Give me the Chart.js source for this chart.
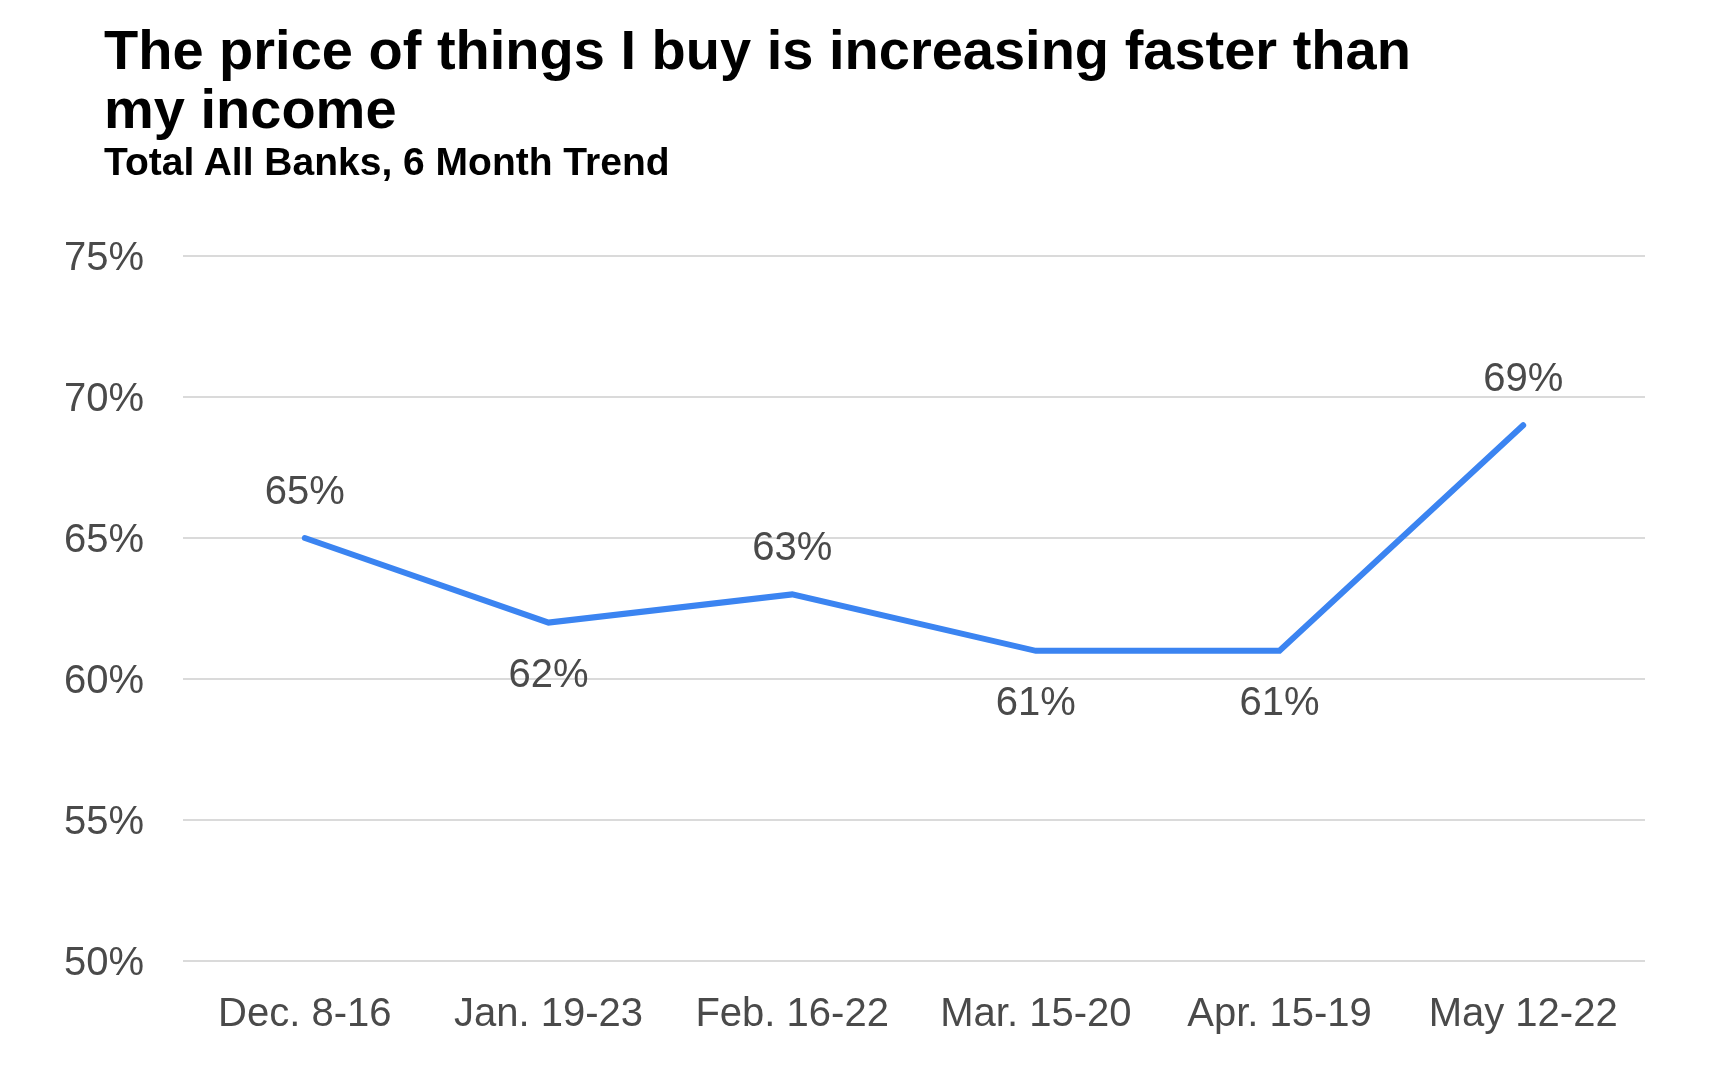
<!DOCTYPE html>
<html>
<head>
<meta charset="utf-8">
<title>The price of things I buy is increasing faster than my income</title>
<script src="https://cdn.jsdelivr.net/npm/chart.js@4.4.1/dist/chart.umd.min.js"></script>
<style>
	html, body { margin: 0; padding: 0; background: #fff; }
	#wrap { position: relative; width: 1716px; height: 1082px; overflow: hidden; }
	#title {
		position: absolute; left: 104px; top: 20px; margin: 0;
		font: bold 56px/59px "Liberation Sans", Arial, sans-serif; color: #000;
	}
	#subtitle {
		position: absolute; left: 104px; top: 140px; margin: 0;
		font: bold 39px/44px "Liberation Sans", Arial, sans-serif; color: #000;
	}
	canvas { position: absolute; left: 0; top: 0; }
</style>
</head>
<body>
<div id="wrap">
	<canvas id="chart" width="1716" height="1082"></canvas>
	<h1 id="title">The price of things I buy is increasing faster than<br>my income</h1>
	<h2 id="subtitle">Total All Banks, 6 Month Trend</h2>
</div>
<script>
"use strict";

// Data

var categories = ["Dec. 8-16", "Jan. 19-23", "Feb. 16-22", "Mar. 15-20", "Apr. 15-19", "May 12-22"];
var shares = [65, 62, 63, 61, 61, 69];	// percent of respondents
var yTicks = [50, 55, 60, 65, 70, 75];

var FONT = "'Liberation Sans', Arial, sans-serif",
	LINE_BLUE = "#3b84f1",
	TEXT_GREY = "#4a4a4a",
	GRID_GREY = "#dadada";

// label goes above the point when it sits higher than its neighbours' average
function labelAbove(i) {
	var near = [];
	if (i > 0) near.push(shares[i - 1]);
	if (i < shares.length - 1) near.push(shares[i + 1]);
	var avg = near.reduce(function (a, b) { return a + b; }, 0) / near.length;
	return shares[i] > avg;
}

var pointLabels = {
	id: "pointLabels",
	afterDatasetsDraw: function (chart) {
		var ctx = chart.ctx,
			meta = chart.getDatasetMeta(0);

		ctx.save();
		ctx.font = "40px " + FONT;
		ctx.fillStyle = TEXT_GREY;
		ctx.textAlign = "center";
		ctx.textBaseline = "middle";
		meta.data.forEach(function (pt, i) {
			var dy = labelAbove(i) ? -45 : 53;
			ctx.fillText(shares[i] + "%", pt.x, pt.y + dy);
		});
		ctx.restore();
	}
};

new Chart(document.getElementById("chart"), {
	type: "line",
	data: {
		labels: categories,
		datasets: [{
			data: shares,
			borderColor: LINE_BLUE,
			borderWidth: 6,
			borderCapStyle: "round",
			pointRadius: 0,
			tension: 0,
			fill: false
		}]
	},
	options: {
		responsive: false,
		animation: false,
		layout: { padding: { top: 256, right: 71, bottom: 0, left: 0 } },
		plugins: {
			legend: { display: false },
			tooltip: { enabled: false }
		},
		scales: {
			x: {
				offset: true,
				border: { display: false },
				grid: { display: false, drawTicks: false },
				ticks: {
					color: TEXT_GREY,
					font: { family: FONT, size: 40 },
					padding: 30,
					maxRotation: 0,
					autoSkip: false
				},
				afterFit: function (scale) { scale.height = 121; }
			},
			y: {
				min: 50,
				max: 75,
				border: { display: false },
				grid: { color: GRID_GREY, lineWidth: 2, drawTicks: false },
				afterBuildTicks: function (scale) {
					scale.ticks = yTicks.map(function (v) { return { value: v }; });
				},
				ticks: {
					color: TEXT_GREY,
					font: { family: FONT, size: 40 },
					padding: 39,
					labelOffset: 3,
					callback: function (v) { return v + "%"; }
				},
				afterFit: function (scale) { scale.width = 183; }
			}
		}
	},
	plugins: [pointLabels]
});
</script>
</body>
</html>
